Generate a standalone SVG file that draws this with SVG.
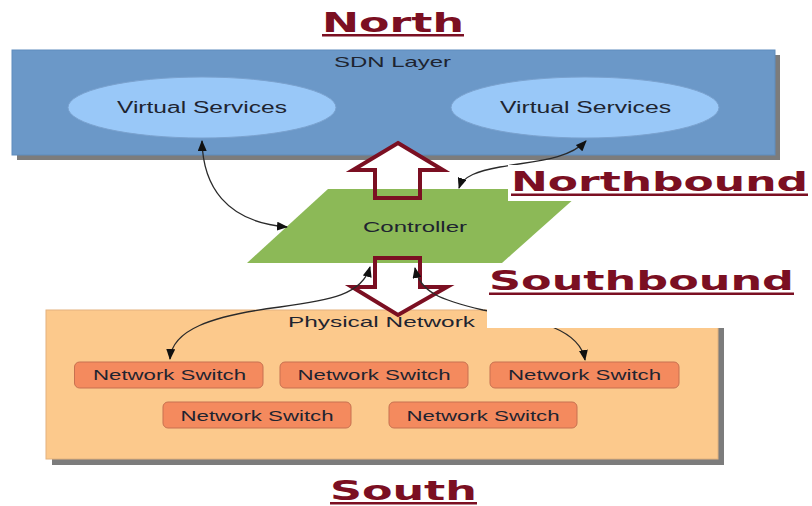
<svg xmlns="http://www.w3.org/2000/svg" width="812" height="506" viewBox="0 0 812 506">
<style>
.lbl{font-family:"Liberation Sans",Arial,sans-serif;fill:#1e2430;}
.title{font-family:"DejaVu Sans","Liberation Sans",sans-serif;font-weight:bold;fill:#7b0f22;font-size:27px;}
.uline{fill:#7b0f22;}
.shadow{fill:#7c7c7c;}
.sw rect{fill:#f48a5e;stroke:#c77150;stroke-width:1;}
.sw text{font-size:15px;}
.ell{fill:#99c8f8;stroke:#7aa2cf;stroke-width:1;}
.conn{fill:none;stroke:#2a2a2a;stroke-width:1.3;marker-start:url(#ah);marker-end:url(#ah);}
.hollow{fill:none;stroke:#7b0f22;stroke-width:4;stroke-linejoin:miter;}
</style>
<defs>
<marker id="ah" markerUnits="userSpaceOnUse" markerWidth="11" markerHeight="9" refX="10" refY="4.5" orient="auto-start-reverse">
<path d="M0,0 L11,4.5 L0,9 z" fill="#111"/>
</marker>
</defs>
<rect width="812" height="506" fill="#fff"/>

<g id="sdn-layer">
<rect class="shadow" x="17" y="55" width="763" height="105"/>
<rect x="12" y="50" width="763" height="105" fill="#6b98c8" stroke="#5f8cbd" stroke-width="1"/>
<text class="lbl" x="334" y="67" font-size="14.5" textLength="117" lengthAdjust="spacingAndGlyphs">SDN Layer</text>
</g>
<g id="vs-left">
<ellipse class="ell" cx="202" cy="107.5" rx="134" ry="30.5"/>
<text class="lbl" x="117" y="113" font-size="16" textLength="170" lengthAdjust="spacingAndGlyphs">Virtual Services</text>
</g>
<g id="vs-right">
<ellipse class="ell" cx="585" cy="107.5" rx="134" ry="30.5"/>
<text class="lbl" x="500" y="113" font-size="16" textLength="171" lengthAdjust="spacingAndGlyphs">Virtual Services</text>
</g>

<g id="physical-network">
<rect class="shadow" x="52" y="316" width="672" height="149"/>
<rect x="46" y="310" width="672" height="149" fill="#fcc98c" stroke="#e3b27e" stroke-width="1"/>
<text class="lbl" x="288" y="327" font-size="15" textLength="187" lengthAdjust="spacingAndGlyphs">Physical Network</text>
</g>
<g id="switch1" class="sw"><rect x="74.5" y="362" width="188.5" height="26" rx="5"/><text class="lbl" x="93" y="380" textLength="153" lengthAdjust="spacingAndGlyphs">Network Switch</text></g>
<g id="switch2" class="sw"><rect x="280" y="362" width="188" height="26" rx="5"/><text class="lbl" x="297.5" y="380" textLength="153" lengthAdjust="spacingAndGlyphs">Network Switch</text></g>
<g id="switch3" class="sw"><rect x="490" y="362" width="189" height="26" rx="5"/><text class="lbl" x="508" y="380" textLength="153" lengthAdjust="spacingAndGlyphs">Network Switch</text></g>
<g id="switch4" class="sw"><rect x="163" y="402" width="188" height="26" rx="5"/><text class="lbl" x="180.5" y="421" textLength="153" lengthAdjust="spacingAndGlyphs">Network Switch</text></g>
<g id="switch5" class="sw"><rect x="389" y="402" width="188" height="26" rx="5"/><text class="lbl" x="406.5" y="421" textLength="153" lengthAdjust="spacingAndGlyphs">Network Switch</text></g>

<g id="arrow-fills">
<polygon points="398,143 443,170 420,170 420,198 375,198 375,170 353,170" fill="#fff"/>
<polygon points="375,258 420,258 420,287 447,287 398,315 352,287 375,287" fill="#fff"/>
</g>

<g id="controller">
<polygon points="328,189 585,189 502,263 247,263" fill="#8cb957"/>
<text class="lbl" x="363" y="232" font-size="15.5" textLength="104" lengthAdjust="spacingAndGlyphs" fill="#1f2a1a">Controller</text>
</g>

<g id="northbound-arrow">
<polygon class="hollow" points="398,143 443,170 420,170 420,198 375,198 375,170 353,170"/>
</g>
<g id="southbound-arrow">
<polygon class="hollow" points="375,258 420,258 420,287 447,287 398,315 352,287 375,287"/>
</g>

<g id="connectors">
<path class="conn" d="M202,141 C203,185 225,222 287,227"/>
<path class="conn" d="M586,141 C568,160 533,161 500,167 C478,171 463,176 459,188"/>
<path class="conn" d="M370,267 C362,295 330,300 280,307 C210,316 172,330 170,359"/>
<path class="conn" d="M415,268 C420,292 440,300 483,310 C540,320 580,330 585,360"/>
</g>

<g id="label-backgrounds">
<rect x="508" y="165" width="304" height="36" fill="#fff"/>
<rect x="487" y="265" width="325" height="63" fill="#fff"/>
</g>

<g id="titles">
<text class="title" x="322" y="32" textLength="142" lengthAdjust="spacingAndGlyphs">North</text>
<rect class="uline" x="322" y="34" width="142" height="2.5"/>
<text class="title" x="511" y="191" font-size="28" textLength="297" lengthAdjust="spacingAndGlyphs">Northbound</text>
<rect class="uline" x="511" y="193.5" width="297" height="2.5"/>
<text class="title" x="489" y="290" font-size="28" textLength="305" lengthAdjust="spacingAndGlyphs">Southbound</text>
<rect class="uline" x="489" y="292.5" width="305" height="2.5"/>
<text class="title" x="330" y="500" textLength="147" lengthAdjust="spacingAndGlyphs">South</text>
<rect class="uline" x="330" y="502" width="147" height="2.5"/>
</g>
</svg>
